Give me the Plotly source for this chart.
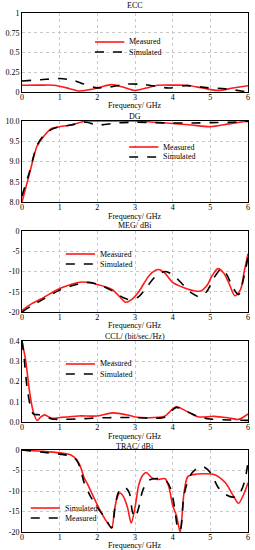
import plotly.graph_objects as go

# ---------------- data ----------------
ecc_meas_x = [0, 0.5, 0.85, 1.25, 1.5, 1.8, 2.05, 2.38, 2.7, 2.98, 3.3, 3.6, 4.0, 4.36, 4.8, 5.2, 5.6, 6.0]
ecc_meas_y = [0.085, 0.087, 0.085, 0.045, 0.013, 0.03, 0.057, 0.093, 0.06, 0.02, 0.05, 0.085, 0.087, 0.085, 0.05, 0.02, 0.05, 0.08]
ecc_sim_x = [0, 0.5, 1.0, 1.35, 1.65, 1.95, 2.3, 2.8, 3.25, 3.9, 4.35, 4.9, 5.4, 6.0]
ecc_sim_y = [0.14, 0.155, 0.17, 0.15, 0.1, 0.055, 0.06, 0.1, 0.095, 0.05, 0.08, 0.055, 0.04, 0.0]

dg_x = [0, 0.2, 0.4, 0.6, 0.8, 1.0, 1.3, 1.7, 2.0, 2.5, 3.0, 3.5, 4.0, 4.5, 5.0, 5.5, 6.0]
dg_meas_y = [8.0, 8.7, 9.38, 9.65, 9.82, 9.86, 9.9, 10.0, 10.0, 10.0, 10.0, 9.97, 9.94, 9.9, 9.86, 9.93, 10.0]
dg_sim_y = [8.15, 8.75, 9.4, 9.67, 9.8, 9.86, 9.9, 9.97, 9.9, 9.95, 9.97, 9.96, 9.95, 9.95, 9.96, 9.97, 9.99]

meg_meas_x = [0, 0.25, 0.5, 1.0, 1.3, 1.6, 2.0, 2.4, 2.6, 2.75, 2.9, 3.1, 3.3, 3.45, 3.62, 3.78, 4.0, 4.3, 4.6, 4.75, 4.9, 5.05, 5.2, 5.35, 5.5, 5.65, 5.8, 5.9, 6.0]
meg_meas_y = [-19.6, -18, -16.8, -14.2, -13.2, -12.6, -13.2, -14.5, -16.3, -17.6, -17.0, -15, -12, -10.3, -9.5, -10.3, -12.7, -14, -14.8, -14.8, -13.6, -11, -9.3, -10.3, -13, -16.0, -14.5, -10, -5.6]
meg_sim_x = [0, 0.25, 0.5, 1.0, 1.3, 1.7, 2.0, 2.4, 2.7, 2.9, 3.1, 3.3, 3.55, 3.8, 4.0, 4.3, 4.5, 4.7, 4.9, 5.1, 5.3, 5.45, 5.6, 5.75, 5.9, 6.0]
meg_sim_y = [-20, -18.5, -17.2, -14.6, -13.6, -12.7, -13.1, -14.8, -16.5, -17.0, -16.2, -14, -11.2, -10, -10.8, -13.5, -15.3, -16.2, -15, -11.5, -9.3, -11, -14, -15.7, -11, -6.5]

ccl_meas_x = [0, 0.1, 0.2, 0.3, 0.4, 0.5, 0.6, 0.8, 1.0, 1.5, 2.0, 2.4, 2.8, 3.0, 3.5, 3.8, 4.0, 4.1, 4.3, 4.5, 4.7, 5.1, 5.5, 5.75, 6.0]
ccl_meas_y = [0.4, 0.3, 0.15, 0.05, 0.008, 0.025, 0.035, 0.018, 0.022, 0.03, 0.03, 0.045, 0.035, 0.025, 0.022, 0.03, 0.065, 0.075, 0.06, 0.04, 0.025, 0.028, 0.02, 0.013, 0.04]
ccl_sim_x = [0, 0.05, 0.15, 0.3, 0.45, 0.6, 0.8, 1.0, 1.5, 2.0, 2.6, 3.0, 3.5, 3.8, 4.0, 4.1, 4.4, 4.7, 5.0, 5.5, 6.0]
ccl_sim_y = [0.4, 0.33, 0.15, 0.04, 0.036, 0.03, 0.015, 0.013, 0.015, 0.02, 0.022, 0.022, 0.018, 0.025, 0.06, 0.072, 0.05, 0.025, 0.015, 0.01, 0.008]

trac_sim_x = [0, 0.5, 1.0, 1.3, 1.45, 1.55, 1.65, 1.75, 1.9, 2.05, 2.2, 2.38, 2.45, 2.52, 2.6, 2.7, 2.8, 2.9, 3.0, 3.1, 3.2, 3.3, 3.45, 3.6, 3.8, 3.9, 4.0, 4.1, 4.2, 4.3, 4.4, 4.55, 4.8, 5.1, 5.4, 5.6, 5.75, 5.9, 6.0]
trac_sim_y = [0, -0.3, -0.7, -1.2, -2.3, -4, -6.8, -8.5, -11.5, -14.3, -16.8, -19, -15, -11.8, -10.5, -11.5, -14, -17.8, -14, -8.5, -6.2, -5.5, -6.8, -7.2, -7, -9, -13.5, -16, -20, -10.5, -6.5, -6, -5.8, -6, -8, -11, -13, -10.5, -8]
trac_meas_x = [0, 0.5, 1.0, 1.3, 1.45, 1.55, 1.65, 1.8, 2.0, 2.2, 2.38, 2.47, 2.55, 2.65, 2.75, 2.85, 2.93, 3.0, 3.1, 3.2, 3.35, 3.5, 3.8, 3.95, 4.05, 4.15, 4.2, 4.3, 4.45, 4.6, 4.8, 5.0, 5.2, 5.4, 5.6, 5.75, 5.9, 6.0]
trac_meas_y = [0, -0.5, -1.0, -1.5, -2.5, -4.5, -8, -11, -14, -16.5, -19, -14, -10.5, -9.3, -9.2, -10.5, -15, -16.5, -14, -10, -7.5, -7, -7.3, -9.5, -14, -19.5, -19.5, -11, -6.5, -4.8, -4, -5.5, -9, -10.8, -11.5, -11, -8, -3]

titles = ["ECC", "DG", "MEG/ dBi", "CCL/ (bit/sec./Hz)", "TRAC/ dBi"]
x_label = "Frequency/ GHz"
x_ticks = [0, 1, 2, 3, 4, 5, 6]
ecc_ticks = [0, 0.25, 0.5, 0.75, 1]
ecc_ticktext = ["0", "0.25", "0.5", "0.75", "1"]
dg_ticks = [8.0, 8.5, 9.0, 9.5, 10.0]
dg_ticktext = ["8.0", "8.5", "9.0", "9.5", "10.0"]
db_ticks = [0, -5, -10, -15, -20]
db_ticktext = ["0", "-5", "-10", "-15", "-20"]
ccl_ticks = [0, 0.1, 0.2, 0.3, 0.4]
ccl_ticktext = ["0.0", "0.1", "0.2", "0.3", "0.4"]

# ---------------- layout helpers ----------------
W, H = 255, 550
ML, MR, MT, MB = 18, 5, 13, 18
PH = H - MT - MB
PW = W - ML - MR


def py(p):
    """pixel row -> paper y"""
    return (H - MB - p) / PH


def px(p):
    return (p - ML) / PW


FONT = "Liberation Serif, Times New Roman, serif"
RED = "#ff1a1a"

panels = [
    dict(top=13, bot=92, rng=[0, 1], tv=ecc_ticks, tt=ecc_ticktext, ty=5, xl=106,
         series=[("Measured", ecc_meas_x, ecc_meas_y, RED, "solid"),
                 ("Simulated", ecc_sim_x, ecc_sim_y, "black", "dash")],
         leg=(93, 42)),
    dict(top=121, bot=202, rng=[8, 10], tv=dg_ticks, tt=dg_ticktext, ty=116, xl=216,
         series=[("Measured", dg_x, dg_meas_y, RED, "solid"),
                 ("Simulated", dg_x, dg_sim_y, "black", "dash")],
         leg=(128, 147)),
    dict(top=231, bot=312, rng=[-20, 0], tv=db_ticks, tt=db_ticktext, ty=226, xl=326,
         series=[("Measured", meg_meas_x, meg_meas_y, RED, "solid"),
                 ("Simulated", meg_sim_x, meg_sim_y, "black", "dash")],
         leg=(63, 254)),
    dict(top=341, bot=422, rng=[0, 0.4], tv=ccl_ticks, tt=ccl_ticktext, ty=336, xl=436,
         series=[("Measured", ccl_meas_x, ccl_meas_y, RED, "solid"),
                 ("Simulated", ccl_sim_x, ccl_sim_y, "black", "dash")],
         leg=(63, 364)),
    dict(top=450, bot=532, rng=[-20, 0], tv=db_ticks, tt=db_ticktext, ty=446, xl=545,
         series=[("Simulated", trac_sim_x, trac_sim_y, RED, "solid"),
                 ("Measured", trac_meas_x, trac_meas_y, "black", "dash")],
         leg=(27, 508)),
]

fig = go.Figure()
layout = dict(
    width=W, height=H,
    margin=dict(l=ML, r=MR, t=MT, b=MB, pad=0),
    paper_bgcolor="white", plot_bgcolor="white",
    font=dict(family=FONT, size=8, color="black"),
    showlegend=False,
)
annotations = []
shapes = []

for i, p in enumerate(panels):
    n = i + 1
    sfx = "" if n == 1 else str(n)
    lx, ly = p["leg"]
    for k, (name, xs, ys, col, dash) in enumerate(p["series"]):
        fig.add_trace(go.Scatter(
            x=xs, y=ys, name=name, mode="lines",
            line=dict(color=col, width=1.6, dash=dash, shape="spline", smoothing=0.8),
            xaxis=f"x{sfx}", yaxis=f"y{sfx}",
        ))
        yy = py(ly + 10 * k)
        shapes.append(dict(type="line", xref="paper", yref="paper",
                           x0=px(lx), x1=px(lx + 30), y0=yy, y1=yy,
                           line=dict(color=col, width=1.6, dash=dash)))
        annotations.append(dict(text=name, x=px(lx + 33), y=yy, xref="paper", yref="paper",
                                showarrow=False, xanchor="left", yanchor="middle",
                                font=dict(size=8, family=FONT)))
    layout[f"xaxis{sfx}"] = dict(
        domain=[0, 1], range=[0, 6], anchor=f"y{sfx}",
        tickvals=x_ticks, ticks="", showline=True, mirror=True,
        linecolor="black", linewidth=1, showgrid=True, gridcolor="#c8c8c8",
        griddash="dot", gridwidth=1, zeroline=False, ticklabelstandoff=-3,
        tickfont=dict(size=8, family=FONT), fixedrange=True,
    )
    layout[f"yaxis{sfx}"] = dict(
        domain=[py(p["bot"]), py(p["top"])], range=p["rng"], anchor=f"x{sfx}",
        tickvals=p["tv"], ticktext=p["tt"], ticks="", showline=True, mirror=True,
        linecolor="black", linewidth=1, showgrid=True, gridcolor="#c8c8c8",
        griddash="dot", gridwidth=1, zeroline=False,
        tickfont=dict(size=8, family=FONT), fixedrange=True,
    )
    annotations.append(dict(
        text=titles[i], x=0.5, xref="paper", y=py(p["ty"]), yref="paper",
        showarrow=False, font=dict(size=8, family=FONT), xanchor="center", yanchor="middle",
    ))
    annotations.append(dict(
        text=x_label, x=0.5, xref="paper", y=py(p["xl"]), yref="paper",
        showarrow=False, font=dict(size=8, family=FONT), xanchor="center", yanchor="middle",
    ))

layout["annotations"] = annotations
layout["shapes"] = shapes
fig.update_layout(**layout)
fig.write_html(
    "out.html",
    config={"displayModeBar": False, "staticPlot": True},
    post_script="document.body.style.margin='0';document.body.style.overflow='hidden';",
)
